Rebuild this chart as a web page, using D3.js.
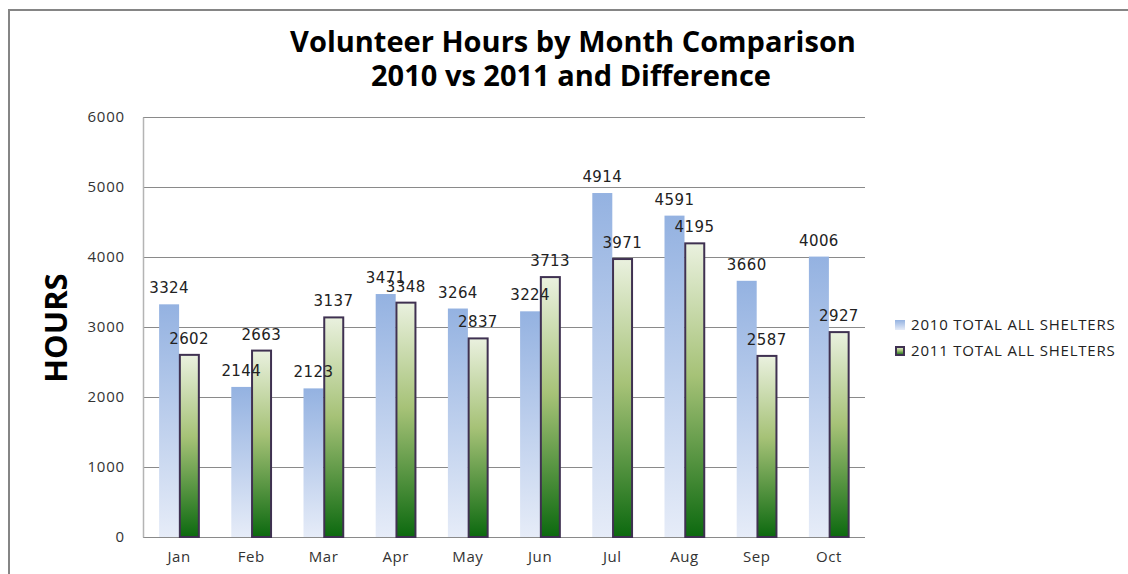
<!DOCTYPE html>
<html>
<head>
<meta charset="utf-8">
<script src="https://cdn.jsdelivr.net/npm/d3@7"></script>
<style>
  body { margin: 0; background: #fff; }
  svg { display: block; }
</style>
</head>
<body>
<div id="chart"></div>
<script>
// chart data
var months = ["Jan", "Feb", "Mar", "Apr", "May", "Jun", "Jul", "Aug", "Sep", "Oct"];
var hours2010 = [3324, 2144, 2123, 3471, 3264, 3224, 4914, 4591, 3660, 4006];
var hours2011 = [2602, 2663, 3137, 3348, 2837, 3713, 3971, 4195, 2587, 2927];
var yTicks = [0, 1000, 2000, 3000, 4000, 5000, 6000];
var seriesNames = ["2010 TOTAL ALL SHELTERS", "2011 TOTAL ALL SHELTERS"];

var W = 1128, H = 574;
var margin = {top: 117, right: 263, bottom: 37, left: 143},
    width = W - margin.left - margin.right,
    height = H - margin.top - margin.bottom;

var svg = d3.select("#chart")
  .append("svg")
    .attr("width", W)
    .attr("height", H);

// gradients
var defs = svg.append("defs");
var gBlue = defs.append("linearGradient")
    .attr("id", "grad2010")
    .attr("x1", 0).attr("y1", 0).attr("x2", 0).attr("y2", 1);
gBlue.append("stop").attr("offset", "0%").attr("stop-color", "#94b2e1");
gBlue.append("stop").attr("offset", "100%").attr("stop-color", "#e6ecf8");

var gGreen = defs.append("linearGradient")
    .attr("id", "grad2011")
    .attr("x1", 0).attr("y1", 0).attr("x2", 0).attr("y2", 1);
gGreen.append("stop").attr("offset", "0%").attr("stop-color", "#eaf1df");
gGreen.append("stop").attr("offset", "45%").attr("stop-color", "#a6c277");
gGreen.append("stop").attr("offset", "100%").attr("stop-color", "#0c690f");

// outer frame
svg.append("rect")
  .attr("x", 9).attr("y", 10)
  .attr("width", W + 20).attr("height", H + 20)
  .attr("fill", "none")
  .attr("stroke", "#858585")
  .attr("stroke-width", 2);

// title
var title = svg.append("text")
  .attr("text-anchor", "middle")
  .style("font-family", "'Open Sans', sans-serif")
  .style("font-weight", "bold")
  .style("font-size", "29px")
  .attr("fill", "#000");
title.append("tspan").attr("x", 573).attr("y", 52).text("Volunteer Hours by Month Comparison");
title.append("tspan").attr("x", 571).attr("y", 86).text("2010 vs 2011 and Difference");

var g = svg.append("g")
  .attr("transform", "translate(" + margin.left + "," + margin.top + ")");

var x0 = d3.scaleBand()
  .domain(months)
  .range([0, width])
  .paddingInner(0)
  .paddingOuter(0);

var barW = 20;
var x1 = d3.scaleBand()
  .domain([0, 1])
  .range([x0.bandwidth() / 2 - barW, x0.bandwidth() / 2 + barW]);

var y = d3.scaleLinear()
  .domain([0, 6000])
  .range([height, 0]);

// gridlines
g.selectAll(".grid")
  .data(yTicks)
  .enter()
  .append("line")
    .attr("class", "grid")
    .attr("x1", 0)
    .attr("x2", width)
    .attr("y1", function(d){ return Math.round(y(d)) + 0.5; })
    .attr("y2", function(d){ return Math.round(y(d)) + 0.5; })
    .attr("stroke", "#8a8a8a")
    .attr("stroke-width", 1);

// y axis
var yAxis = g.append("g")
  .call(d3.axisLeft(y).tickValues(yTicks).tickFormat(d3.format("d")).tickSize(0).tickPadding(18));
yAxis.select(".domain").attr("stroke", "#b4b4b4").attr("stroke-width", 1.5);
yAxis.selectAll("text")
  .style("font-family", "'Open Sans', sans-serif")
  .style("font-size", "15px")
  .style("letter-spacing", "0.8px")
  .attr("fill", "#333");

// x axis labels
var xAxis = g.append("g")
  .attr("transform", "translate(0," + height + ")")
  .call(d3.axisBottom(x0).tickSize(0).tickPadding(14));
xAxis.select(".domain").remove();
xAxis.selectAll("text")
  .style("font-family", "'Open Sans', sans-serif")
  .style("font-size", "15px")
  .style("letter-spacing", "0.6px")
  .attr("fill", "#333");

// y axis title
svg.append("text")
  .attr("transform", "translate(67,328) rotate(-90)")
  .attr("text-anchor", "middle")
  .style("font-family", "'Open Sans', sans-serif")
  .style("font-weight", "bold")
  .style("font-size", "31px")
  .attr("fill", "#000")
  .text("HOURS");

// bars
var groups = g.selectAll(".month")
  .data(months)
  .enter()
  .append("g")
    .attr("class", "month")
    .attr("transform", function(d){ return "translate(" + x0(d) + ",0)"; });

groups.append("rect")
  .attr("x", x1(0))
  .attr("width", x1.bandwidth())
  .attr("y", function(d,i){ return y(hours2010[i]); })
  .attr("height", function(d,i){ return height - y(hours2010[i]); })
  .attr("fill", "url(#grad2010)");

groups.append("rect")
  .attr("x", x1(1) + 0.75)
  .attr("width", x1.bandwidth() - 1)
  .attr("y", function(d,i){ return y(hours2011[i]); })
  .attr("height", function(d,i){ return height - y(hours2011[i]); })
  .attr("fill", "url(#grad2011)")
  .attr("stroke", "#3f3151")
  .attr("stroke-width", 2);

// value labels
groups.append("text")
  .attr("x", x1(0) + x1.bandwidth() / 2)
  .attr("y", function(d,i){ return y(hours2010[i]) - 11; })
  .attr("text-anchor", "middle")
  .style("font-family", "'DejaVu Sans', sans-serif")
  .style("font-size", "15px")
  .style("letter-spacing", "0.4px")
  .attr("fill", "#222")
  .text(function(d,i){ return hours2010[i]; });

groups.append("text")
  .attr("x", x1(1) + x1.bandwidth() / 2)
  .attr("y", function(d,i){ return y(hours2011[i]) - 11; })
  .attr("text-anchor", "middle")
  .style("font-family", "'DejaVu Sans', sans-serif")
  .style("font-size", "15px")
  .style("letter-spacing", "0.4px")
  .attr("fill", "#222")
  .text(function(d,i){ return hours2011[i]; });

// legend
var legend = svg.append("g")
  .attr("transform", "translate(895,320)");

var items = legend.selectAll(".item")
  .data(seriesNames)
  .enter()
  .append("g")
    .attr("class", "item")
    .attr("transform", function(d,i){ return "translate(0," + (i * 26) + ")"; });

items.append("rect")
  .attr("x", function(d,i){ return i === 0 ? 0 : 1; })
  .attr("y", function(d,i){ return i === 0 ? 0 : 1; })
  .attr("width", function(d,i){ return i === 0 ? 10 : 8; })
  .attr("height", function(d,i){ return i === 0 ? 10 : 8; })
  .attr("fill", function(d,i){ return i === 0 ? "url(#grad2010)" : "url(#grad2011)"; })
  .attr("stroke", function(d,i){ return i === 0 ? "none" : "#3f3151"; })
  .attr("stroke-width", 2);

items.append("text")
  .attr("x", 16)
  .attr("y", 10)
  .style("font-family", "'Open Sans', sans-serif")
  .style("font-size", "15px")
  .style("letter-spacing", "0.8px")
  .attr("fill", "#222")
  .text(function(d){ return d; });
</script>
</body>
</html>
